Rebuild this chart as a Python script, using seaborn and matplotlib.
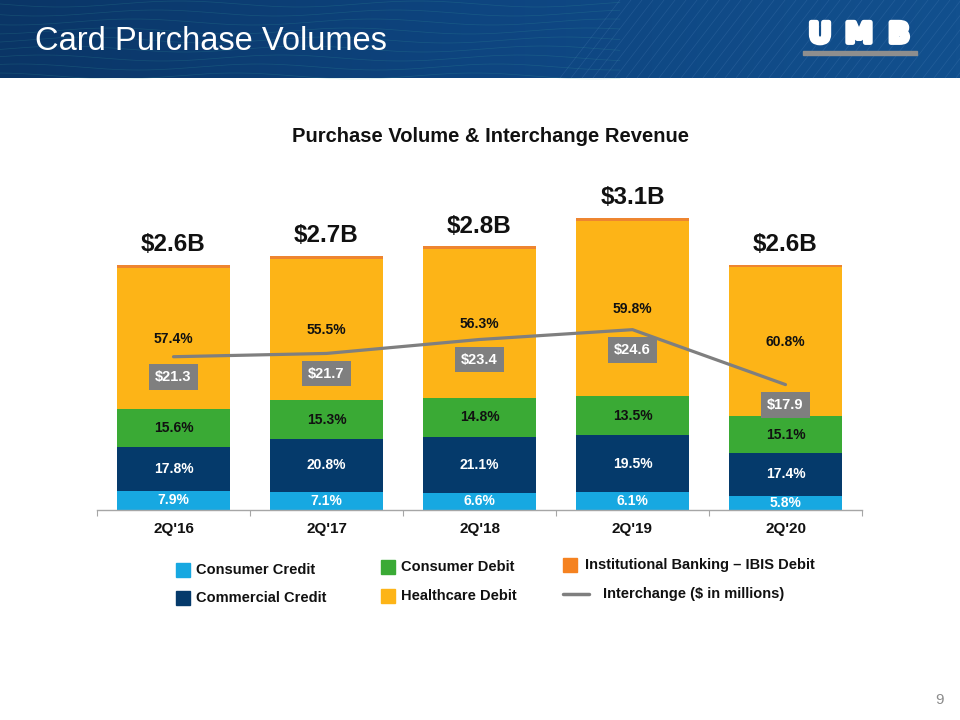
import numpy as np
import pandas as pd
import matplotlib
matplotlib.use("Agg")
import matplotlib.pyplot as plt
import seaborn as sns
from matplotlib.patches import Rectangle
from matplotlib.colors import LinearSegmentedColormap
import matplotlib.patheffects as pe

# ---------------- data ----------------
quarters = ["2Q'16", "2Q'17", "2Q'18", "2Q'19", "2Q'20"]
totals = [2.6, 2.7, 2.8, 3.1, 2.6]                      # $B
total_labels = ["$2.6B", "$2.7B", "$2.8B", "$3.1B", "$2.6B"]
consumer_credit = [7.9, 7.1, 6.6, 6.1, 5.8]              # % of volume
commercial_credit = [17.8, 20.8, 21.1, 19.5, 17.4]
consumer_debit = [15.6, 15.3, 14.8, 13.5, 15.1]
healthcare_debit = [57.4, 55.5, 56.3, 59.8, 60.8]
ibis_debit = [1.3, 1.3, 1.2, 1.1, 0.9]
interchange = [21.3, 21.7, 23.4, 24.6, 17.9]             # $ millions

segment_names = ["Consumer Credit", "Commercial Credit", "Consumer Debit",
                 "Healthcare Debit", "Institutional Banking \u2013 IBIS Debit"]
segment_pcts = [consumer_credit, commercial_credit, consumer_debit,
                healthcare_debit, ibis_debit]
segment_colors = ["#17A8E1", "#053A6B", "#3AAA35", "#FDB417", "#EE8530"]
label_colors = ["white", "white", "#111111", "#111111", None]
line_color = "#7F7F7F"

sns.set_theme(style="white")
plt.rcParams['font.family'] = ['Liberation Sans', 'DejaVu Sans']

W, H = 960, 720
fig = plt.figure(figsize=(W / 100, H / 100), dpi=100)
fig.patch.set_facecolor("white")

# ---------------- background / header layer (pixel coords) ----------------
bg = fig.add_axes([0, 0, 1, 1])
grad = np.linspace(0, 1, 256)[None, :]
hcmap = LinearSegmentedColormap.from_list("hdr", ["#0A3566", "#0E4580", "#12508E"])
bg.imshow(grad, extent=[0, W, 78, 0], aspect="auto", cmap=hcmap, zorder=0)
# subtle header texture
xs = np.linspace(0, 620, 300)
for k in range(9):
    y0 = 4 + k * 9
    bg.plot(xs, y0 + 3 * np.sin(xs / 38.0 + k * 0.6), color="#3FA7A0", lw=0.5, alpha=0.22, zorder=1)
for k in range(40):
    x0 = 560 + k * 11
    bg.plot([x0, x0 + 60], [78, 0], color="#6A9BD0", lw=0.5, alpha=0.2, zorder=1)
bg.set_xlim(0, W)
bg.set_ylim(H, 0)
bg.axis("off")
bg.text(35, 41, "Card Purchase Volumes", color="white", fontsize=23.5,
        ha="left", va="center", zorder=3)
for ch, cx in zip("UMB", [820, 859, 899]):
    bg.text(cx, 34.5, ch, color="white", fontsize=20, fontweight="bold",
            family="DejaVu Sans", ha="center", va="center", zorder=3,
            path_effects=[pe.withStroke(linewidth=3.5, foreground="white")])
bg.add_patch(Rectangle((803, 51), 114, 4, color="#8E8E8E", zorder=3))
bg.text(490, 136, "Purchase Volume & Interchange Revenue", fontsize=14.5,
        fontweight="bold", color="#111111", ha="center", va="center")
bg.text(944, 700, "9", fontsize=11, color="#8C8C8C", ha="right", va="center")

# legend (pixel coords)
legend_items = [
    ("sq", segment_colors[0], segment_names[0], 183, 570, 196),
    ("sq", segment_colors[1], segment_names[1], 183, 598, 196),
    ("sq", segment_colors[2], segment_names[2], 388, 567, 401),
    ("sq", segment_colors[3], segment_names[3], 388, 596, 401),
    ("sq", "#F58220", segment_names[4], 570, 565, 585),
    ("ln", line_color, "Interchange ($ in millions)", 576, 594, 603),
]
for kind, col, name, cx, cy, tx in legend_items:
    if kind == "sq":
        bg.add_patch(Rectangle((cx - 7, cy - 7), 14, 14, color=col))
    else:
        bg.plot([cx - 13, cx + 13], [cy, cy], color=col, lw=2.5)
    bg.text(tx, cy, name, fontsize=10.5, fontweight="bold", color="#111111",
            ha="left", va="center")

# ---------------- main chart ----------------
ax = fig.add_axes([97 / W, (H - 510) / H, 765 / W, 310 / H])
ax.set_facecolor("none")

rows = []
for qi, q in enumerate(quarters):
    cum = 0.0
    for si, name in enumerate(segment_names):
        val = totals[qi] * segment_pcts[si][qi] / 100.0
        rows.append(dict(quarter=q, segment=name, bottom=cum, value=val,
                         top=cum + val, pct=segment_pcts[si][qi]))
        cum += val
df = pd.DataFrame(rows)

# draw cumulative bars from top layer down so they stack
for si in reversed(range(len(segment_names))):
    sub = df[df["segment"] == segment_names[si]]
    sns.barplot(data=sub, x="quarter", y="top", order=quarters, color=segment_colors[si],
                saturation=1, width=0.74, errorbar=None, linewidth=0, ax=ax)

# percentage labels
for _, r in df.iterrows():
    si = segment_names.index(r["segment"])
    if label_colors[si] is None:
        continue
    qi = quarters.index(r["quarter"])
    ax.text(qi, r["bottom"] + r["value"] / 2, f"{r['pct']:.1f}%", ha="center", va="center",
            fontsize=10, fontweight="bold", color=label_colors[si], zorder=5)

# total labels
for qi, t in enumerate(totals):
    ax.annotate(total_labels[qi], (qi, t), xytext=(0, 14.5), textcoords="offset points",
                ha="center", va="center", fontsize=17.5, fontweight="bold", color="#111111",
                annotation_clip=False)

ax.set_xlim(-0.5, 4.5)
ax.set_ylim(0, 310 / 94.2)
ax.set_xlabel("")
ax.set_ylabel("")
ax.set_yticks([])
ax.set_xticks(range(len(quarters)))
ax.set_xticklabels(quarters, fontsize=11, fontweight="bold", color="#111111")
ax.set_xticks(np.arange(-0.5, 5, 1.0), minor=True)
ax.tick_params(axis="x", which="major", length=0, pad=9)
ax.tick_params(axis="x", which="minor", length=4, width=0.8, color="#A6A6A6", direction="out", bottom=True)
for s in ["top", "left", "right"]:
    ax.spines[s].set_visible(False)
ax.spines["bottom"].set_color("#A6A6A6")
ax.spines["bottom"].set_linewidth(1)

# interchange line on secondary axis
ax2 = ax.twinx()
sns.lineplot(x=np.arange(len(quarters)), y=interchange, ax=ax2, color=line_color,
             linewidth=2.3, zorder=6)
ax2.set_ylim(2.61, 40.41)
ax2.set_xlim(-0.5, 4.5)
ax2.axis("off")
for qi, v in enumerate(interchange):
    ax2.annotate(f"${v:.1f}", (qi, v), xytext=(0, -14.5), textcoords="offset points",
                 ha="center", va="center", fontsize=10.5, fontweight="bold", color="white",
                 bbox=dict(boxstyle="square,pad=0.4", fc="#7F7F7F", ec="none"), zorder=7)

fig.savefig("out.png", dpi=100, facecolor="white")
